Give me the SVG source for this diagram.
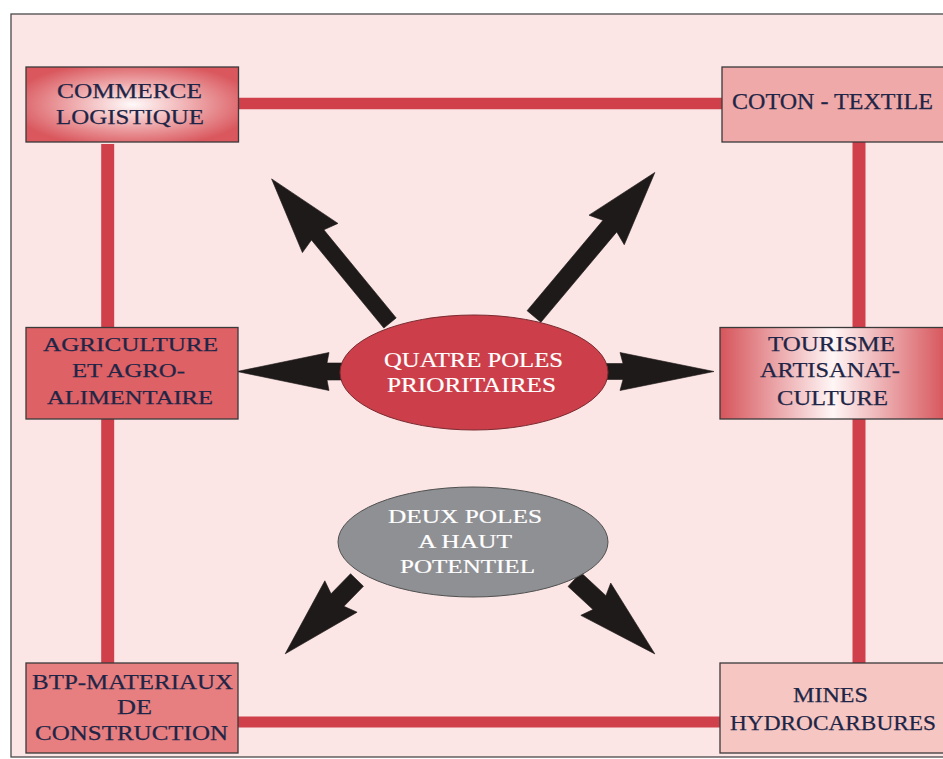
<svg xmlns="http://www.w3.org/2000/svg" width="943" height="759" viewBox="0 0 943 759">
  <style>
    .box { stroke: #3a3a3a; stroke-width: 1.3; }
    .link { stroke: #cf404b; fill: none; }
    .arrow { fill: #1f1a1a; stroke: #1f1a1a; stroke-width: 0.6; stroke-linejoin: miter; }
    .t { font-family: "Liberation Serif", "Times New Roman", serif; fill: #1e2546; stroke: #1e2546; stroke-width: 0.25; text-anchor: middle; }
    .w { font-family: "Liberation Serif", "Times New Roman", serif; fill: #ffffff; stroke: #ffffff; stroke-width: 0.2; text-anchor: middle; }
  </style>
  <defs>
    <radialGradient id="gCommerce" cx="0.5" cy="0.5" r="0.58">
      <stop offset="0" stop-color="#fffafa"/>
      <stop offset="0.45" stop-color="#f0b0b2"/>
      <stop offset="1" stop-color="#d9575d"/>
    </radialGradient>
    <linearGradient id="gTourisme" gradientUnits="userSpaceOnUse" x1="720" y1="0" x2="946" y2="0">
      <stop offset="0" stop-color="#d6555b"/>
      <stop offset="0.5" stop-color="#fff6f6"/>
      <stop offset="1" stop-color="#d6555b"/>
    </linearGradient>
  </defs>

  <rect x="0" y="0" width="943" height="759" fill="#ffffff"/>
  <rect x="11" y="14" width="960" height="743" fill="#fbe6e5" stroke="#4a4a4a" stroke-width="1.3"/>

  <g id="connectors">
    <line class="link" x1="238" y1="103.5" x2="722" y2="103.5" stroke-width="11.5"/>
    <line class="link" x1="238" y1="722" x2="720" y2="722" stroke-width="11"/>
    <line class="link" x1="107.7" y1="144" x2="107.7" y2="327.5" stroke-width="13"/>
    <line class="link" x1="107.7" y1="419" x2="107.7" y2="663" stroke-width="13"/>
    <line class="link" x1="859" y1="142" x2="859" y2="327.5" stroke-width="13"/>
    <line class="link" x1="859" y1="419" x2="859" y2="663" stroke-width="13"/>

    <polygon class="arrow" transform="translate(390,323) rotate(-129.4)" points="0,-8 114,-8 110,-23 186.5,0 110,23 114,8 0,8"/>
    <polygon class="arrow" transform="translate(534,316.5) rotate(-50)" points="0,-9 118,-9 113,-23 188,0 113,23 118,9 0,9"/>
    <polygon class="arrow" transform="translate(342,371.5) rotate(180)" points="0,-8.5 15,-8.5 13,-19 105,0 13,19 15,8.5 0,8.5"/>
    <polygon class="arrow" transform="translate(606,371.5)" points="0,-8 17,-8 14,-19 108,0 14,19 17,8 0,8"/>
    <polygon class="arrow" transform="translate(357,580) rotate(134.2)" points="0,-9 28,-9 23,-22.5 103,0 23,22.5 28,9 0,9"/>
    <polygon class="arrow" transform="translate(574.5,579.5) rotate(42.8)" points="0,-9.5 34,-9.5 29,-22 109.5,0 29,22 34,9.5 0,9.5"/>
  </g>

  <g id="commerce">
    <rect class="box" x="26" y="67" width="212.5" height="75" fill="url(#gCommerce)"/>
    <text class="t" x="129.5" y="98" font-size="21.5" textLength="145" lengthAdjust="spacingAndGlyphs">COMMERCE</text>
    <text class="t" x="130" y="124" font-size="21.5" textLength="148" lengthAdjust="spacingAndGlyphs">LOGISTIQUE</text>
  </g>

  <g id="coton">
    <rect class="box" x="722" y="67" width="240" height="75" fill="#eea9a8"/>
    <text class="t" x="832.5" y="109" font-size="22.5" textLength="201" lengthAdjust="spacingAndGlyphs">COTON - TEXTILE</text>
  </g>

  <g id="agriculture">
    <rect class="box" x="26" y="327.5" width="212" height="91.5" fill="#dd6165"/>
    <text class="t" x="130.5" y="351" font-size="19.5" textLength="175" lengthAdjust="spacingAndGlyphs">AGRICULTURE</text>
    <text class="t" x="128.5" y="377" font-size="19.5" textLength="113" lengthAdjust="spacingAndGlyphs">ET AGRO-</text>
    <text class="t" x="130" y="404" font-size="19.5" textLength="166" lengthAdjust="spacingAndGlyphs">ALIMENTAIRE</text>
  </g>

  <g id="tourisme">
    <rect class="box" x="720" y="327.5" width="240" height="91.5" fill="url(#gTourisme)"/>
    <text class="t" x="831.5" y="351" font-size="20.5" textLength="127" lengthAdjust="spacingAndGlyphs">TOURISME</text>
    <text class="t" x="830" y="377" font-size="20.5" textLength="140" lengthAdjust="spacingAndGlyphs">ARTISANAT-</text>
    <text class="t" x="832.5" y="405" font-size="20.5" textLength="111" lengthAdjust="spacingAndGlyphs">CULTURE</text>
  </g>

  <g id="btp">
    <rect class="box" x="26" y="663" width="212" height="90" fill="#e77f80"/>
    <text class="t" x="132.5" y="689" font-size="21.5" textLength="201" lengthAdjust="spacingAndGlyphs">BTP-MATERIAUX</text>
    <text class="t" x="134.5" y="714" font-size="21.5" textLength="35" lengthAdjust="spacingAndGlyphs">DE</text>
    <text class="t" x="131.5" y="740" font-size="21.5" textLength="193" lengthAdjust="spacingAndGlyphs">CONSTRUCTION</text>
  </g>

  <g id="mines">
    <rect class="box" x="720" y="663" width="240" height="90" fill="#f6c7c2"/>
    <text class="t" x="830.5" y="702" font-size="21.5" textLength="75" lengthAdjust="spacingAndGlyphs">MINES</text>
    <text class="t" x="833" y="730" font-size="21.5" textLength="206" lengthAdjust="spacingAndGlyphs">HYDROCARBURES</text>
  </g>

  <g id="quatre-poles">
    <ellipse cx="474" cy="372.5" rx="134" ry="57.5" fill="#cc3f4a" stroke="#7a2a30" stroke-width="1"/>
    <text class="w" x="473.5" y="367" font-size="22" textLength="179" lengthAdjust="spacingAndGlyphs">QUATRE POLES</text>
    <text class="w" x="471.5" y="392" font-size="22" textLength="169" lengthAdjust="spacingAndGlyphs">PRIORITAIRES</text>
  </g>

  <g id="deux-poles">
    <ellipse cx="473" cy="542" rx="135" ry="55" fill="#8f9094" stroke="#505050" stroke-width="1"/>
    <text class="w" x="465" y="523" font-size="18.5" textLength="154" lengthAdjust="spacingAndGlyphs">DEUX POLES</text>
    <text class="w" x="465" y="548" font-size="18.5" textLength="94" lengthAdjust="spacingAndGlyphs">A HAUT</text>
    <text class="w" x="467.5" y="573" font-size="18.5" textLength="135" lengthAdjust="spacingAndGlyphs">POTENTIEL</text>
  </g>
</svg>
